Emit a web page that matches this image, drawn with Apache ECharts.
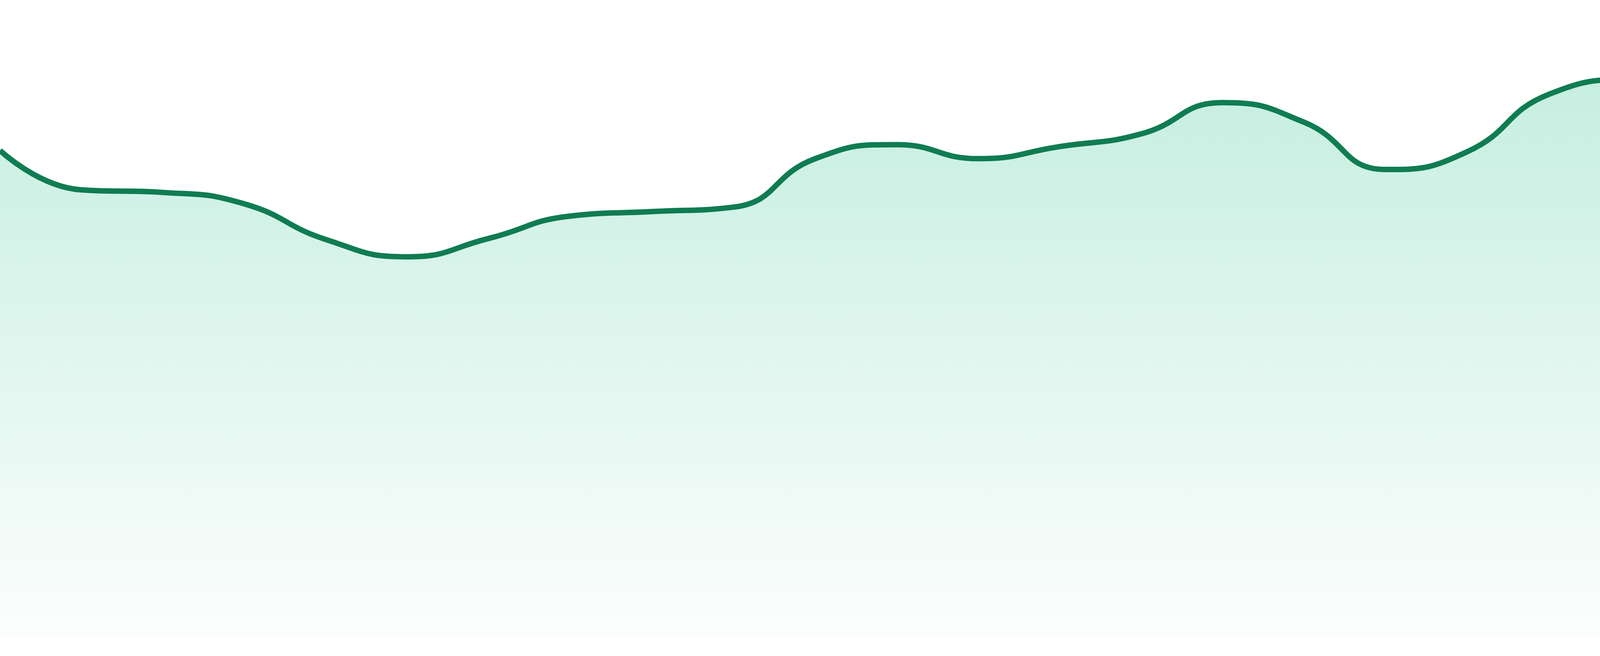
<!DOCTYPE html>
<html>
<head>
    <meta charset="utf-8">
    <title>ECharts</title>
    <script type="text/javascript" src="https://cdn.jsdelivr.net/npm/echarts@6/dist/echarts.min.js"></script>
    <style>
        html, body { margin: 0; padding: 0; background: #ffffff; }
        #main { width: 4800px; height: 1680px; }
    </style>
</head>
<body>
    <div id="main"></div>

    <script type="text/javascript">
        // categories (24 evenly spaced points, no labels shown)
        var categories = [];
        for (var i = 1; i <= 24; i++) {
            categories.push(String(i));
        }

        // series values
        var values = [
            76.4, 70.2, 69.8, 68.0, 62.4, 59.7, 62.6, 66.1,
            66.8, 67.5, 75.1, 77.3, 75.1, 77.0, 79.0, 83.9,
            80.8, 73.4, 76.2, 85.2, 87.5, 77.3, 77.6, 83.6
        ];

        var yMin = 0;
        var yMax = 100;

        var myChart = echarts.init(document.getElementById('main'));

        myChart.setOption({
            animation: false,
            grid: {
                left: 0,
                right: 0,
                top: 0,
                bottom: 48
            },
            xAxis: {
                type: 'category',
                data: categories,
                boundaryGap: false,
                show: false
            },
            yAxis: {
                type: 'value',
                min: yMin,
                max: yMax,
                show: false,
                splitLine: { show: false }
            },
            series: [{
                type: 'line',
                data: values,
                smooth: true,
                symbol: 'none',
                lineStyle: {
                    color: '#107c52',
                    width: 14
                },
                areaStyle: {
                    color: new echarts.graphic.LinearGradient(0, 0, 0, 1, [
                        { offset: 0, color: 'rgba(16,185,129,0.34)' },
                        { offset: 1, color: 'rgba(16,185,129,0.02)' }
                    ])
                }
            }]
        });
    </script>
</body>
</html>
